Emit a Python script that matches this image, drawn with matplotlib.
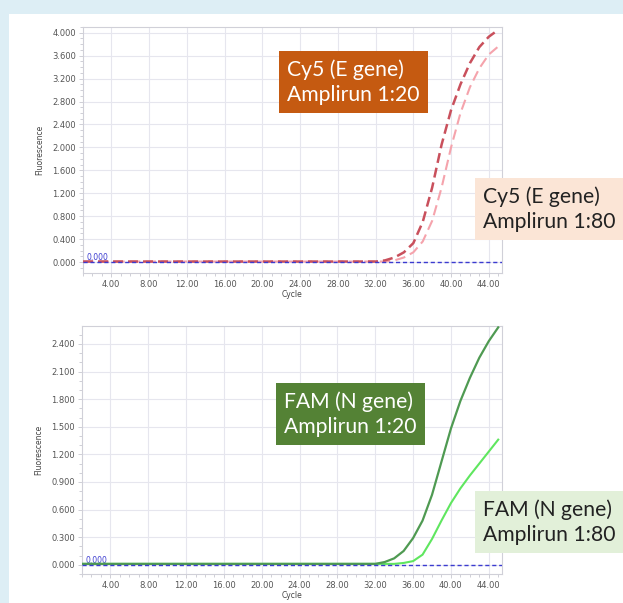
#Real-time PCR amplification curves: Cy5 (E gene) and FAM (N gene)

import numpy as np
from matplotlib import pyplot as plt
from matplotlib.patches import Rectangle
from matplotlib.ticker import MultipleLocator, FormatStrFormatter

###--------------------------###
cycles = list(range(1, 46))

base = [0.01] * 32
cy5_20 = base + [0.03, 0.08, 0.17, 0.33, 0.70, 1.30, 2.05, 2.65, 3.10, 3.47, 3.75, 3.93, 4.05]
cy5_80 = base + [0.01, 0.03, 0.08, 0.17, 0.36, 0.72, 1.30, 2.00, 2.60, 3.05, 3.38, 3.62, 3.76]
fam_20 = base + [0.03, 0.07, 0.15, 0.29, 0.48, 0.76, 1.12, 1.48, 1.78, 2.03, 2.25, 2.43, 2.58]
fam_80 = base + [0.01, 0.01, 0.02, 0.04, 0.11, 0.28, 0.48, 0.67, 0.83, 0.97, 1.10, 1.23, 1.36]
threshold = 0.0

cy5_labels = ['Cy5 (E gene)\nAmplirun 1:20', 'Cy5 (E gene)\nAmplirun 1:80']
fam_labels = ['FAM (N gene)\nAmplirun 1:20', 'FAM (N gene)\nAmplirun 1:80']
### -------------- ###

fig = plt.figure(figsize=(6.23, 6.03), dpi=100)
fig.patch.set_facecolor('#ddeef5')
fig.patches.append(Rectangle((9/623, 0), 1, 1 - 14/603, transform=fig.transFigure,
                             facecolor='white', edgecolor='none', zorder=-10))

def style_axes(ax, ylim, ystep, yminor):
    ax.set_xlim(1.0, 45.4)
    ax.set_ylim(ylim)
    ax.xaxis.set_minor_locator(MultipleLocator(1))
    ax.yaxis.set_major_locator(MultipleLocator(ystep))
    ax.yaxis.set_minor_locator(MultipleLocator(yminor))
    ax.xaxis.set_major_formatter(FormatStrFormatter('%.2f'))
    ax.yaxis.set_major_formatter(FormatStrFormatter('%.3f'))
    ax.set_xticks([t for t in np.arange(4, 45, 4)])
    ax.grid(True, which='major', color='#e6e6ee', lw=0.8)
    ax.tick_params(which='both', colors='#c8c8d0', labelcolor='#555555', labelsize=6,
                   direction='out', length=2, width=0.6, pad=2)
    ax.tick_params(which='major', length=3)
    for s in ax.spines.values():
        s.set_color('#d0d0d8')
        s.set_linewidth(0.8)
    ax.set_xlabel('Cycle', fontsize=5.5, color='#444444', labelpad=1)
    ax.set_ylabel('Fluorescence', fontsize=5.5, color='#444444', labelpad=6)
    ax.axhline(threshold, color='#3b3bd0', lw=1.0, ls=(0, (3, 2)), zorder=4)
    ax.text(1.4, threshold, '%.3f' % threshold, color='#3b3bd0', fontsize=5.5,
            va='bottom', ha='left')

def label_box(x, y, text, fc, tc):
    fig.text(x, y, text, fontsize=15.2, family='Lato', color=tc, va='center', ha='left',
             linespacing=1.3,
             bbox=dict(boxstyle='square,pad=0.4', facecolor=fc, edgecolor='none'))

# top panel
ax1 = fig.add_axes([83/623, 1 - 273/603, 419/623, 246/603])
style_axes(ax1, (-0.19, 4.1), 0.4, 0.1)
ax1.plot(cycles, cy5_80, color='#f5a3ac', lw=1.5, ls=(0, (5, 2.5)), zorder=3)
ax1.plot(cycles, cy5_20, color='#c9505c', lw=1.8, ls=(0, (4, 2)), zorder=3)

# bottom panel
ax2 = fig.add_axes([82/623, 1 - 574/603, 420/623, 248/603])
style_axes(ax2, (-0.1, 2.595), 0.3, 0.1)
ax2.plot(cycles, fam_80, color='#5fe65f', lw=1.5, zorder=3)
ax2.plot(cycles, fam_20, color='#4f9a52', lw=1.6, zorder=3)

label_box(287/623, 1 - 82/603, cy5_labels[0], '#c55a11', 'white')
label_box(483/623, 1 - 209/603, cy5_labels[1], '#fbe5d6', '#222222')
label_box(284/623, 1 - 414/603, fam_labels[0], '#548235', 'white')
label_box(483/623, 1 - 522/603, fam_labels[1], '#e2f0d9', '#222222')

plt.savefig('out.png', dpi=100, facecolor=fig.get_facecolor())
